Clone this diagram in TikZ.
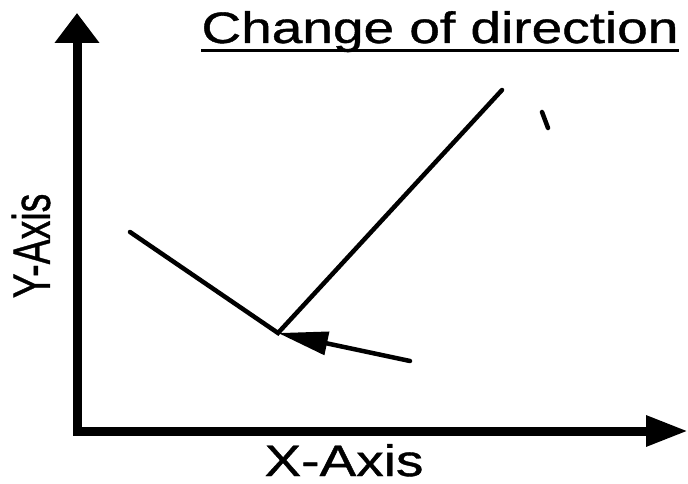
\documentclass[tikz,border=0pt]{standalone}
\usepackage{fontspec}
\setmainfont{Liberation Sans}[BoldFont=Liberation Sans,BoldFeatures={FakeBold=0.8}]
\usetikzlibrary{arrows.meta}
\begin{document}
\begin{tikzpicture}[x=1pt,y=1pt,
  axis/.style={line width=9pt,line cap=butt},
  seg/.style={line width=4.5pt,line cap=round},
  lbl/.style={font=\fontsize{44}{50}\selectfont\bfseries,inner sep=0pt}]
\useasboundingbox (0,0) rectangle (688,483);
% points (y = 483 - pixel row)
\coordinate (O) at (77,52);
\coordinate (Ytip) at (77,470);
\coordinate (Xtip) at (688,52);
\coordinate (A) at (130,251);
\coordinate (V) at (278,150);
\coordinate (B) at (502,393);
\coordinate (C) at (410,122);
\coordinate (T1) at (542,371);
\coordinate (T2) at (548,355);
% axes
\draw[axis,-{Triangle[length=30pt,width=43pt]}] ([yshift=-4.5pt]O) -- (Ytip);
\draw[axis,-{Triangle[length=42pt,width=29pt]}] (O) -- (Xtip);
% lines
\draw[seg] (A) -- (V) -- (B);
\draw[seg,-{Triangle[length=50pt,width=23pt]}] (C) -- (V);
\draw[seg] (T1) -- (T2);
% labels
\node[lbl,anchor=base] (title) at (440,440) {\scalebox{1.25}[1]{Change of direction}};
\draw[line width=3pt] ([yshift=-8pt]title.base west) -- ([yshift=-8pt]title.base east);
\node[lbl,anchor=base] (xl) at (344,7) {\scalebox{1.25}[1]{X-Axis}};
\node[lbl,rotate=90] (yl) at (31,237) {\scalebox{0.85}[1.2]{Y-Axis}};
\end{tikzpicture}
\end{document}
